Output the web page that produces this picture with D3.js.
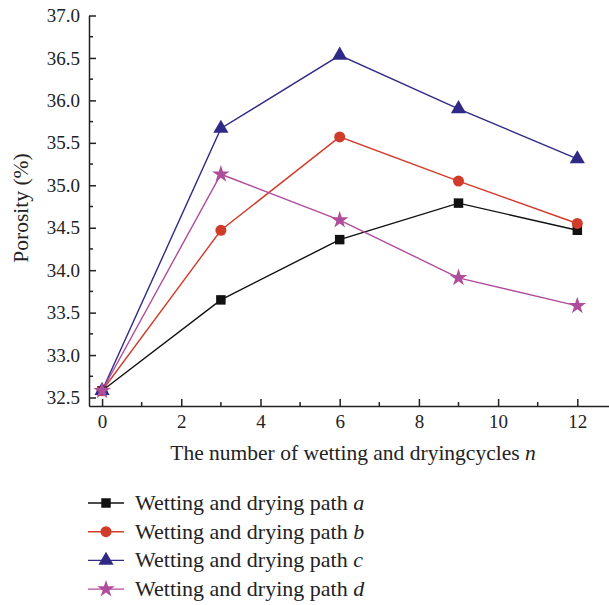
<!DOCTYPE html>
<html>
<head>
<meta charset="utf-8">
<script src="https://cdn.jsdelivr.net/npm/d3@7"></script>
<style>
  body { margin: 0; background: #fff; }
  text { font-family: "Liberation Serif", "DejaVu Serif", serif; fill: #222; }
</style>
</head>
<body>
<div id="app"></div>
<script>
const cycles = [0, 3, 6, 9, 12];
const pathA = [32.58, 33.65, 34.36, 34.79, 34.47];
const pathB = [32.58, 34.47, 35.57, 35.05, 34.55];
const pathC = [32.58, 35.67, 36.53, 35.90, 35.31];
const pathD = [32.58, 35.13, 34.59, 33.91, 33.58];
const seriesNames = ["a", "b", "c", "d"];
const xTicks = [0, 2, 4, 6, 8, 10, 12];
const yTicks = [32.5, 33.0, 33.5, 34.0, 34.5, 35.0, 35.5, 36.0, 36.5, 37.0];

const width = 609, height = 605;
const svg = d3.select("#app").append("svg")
  .attr("width", width).attr("height", height);

const x = d3.scaleLinear().domain([-0.33, 12.8]).range([89, 609]);
const y = d3.scaleLinear().domain([32.4, 37.0]).range([406, 15.5]);

const series = [
  { name: seriesNames[0], values: pathA, color: "#111111", symbol: d3.symbolSquare, size: 90 },
  { name: seriesNames[1], values: pathB, color: "#d13b2a", symbol: d3.symbolCircle, size: 95 },
  { name: seriesNames[2], values: pathC, color: "#2f2a86", symbol: d3.symbolTriangle, size: 100 },
  { name: seriesNames[3], values: pathD, color: "#b04c9c", symbol: d3.symbolStar, size: 95 }
];

// axes: ticks point inward
const xAxis = svg.append("g").attr("transform", `translate(0,${y.range()[0]})`)
  .call(d3.axisBottom(x).tickValues(xTicks).tickSizeInner(-7).tickSizeOuter(0).tickPadding(9));
const yAxis = svg.append("g").attr("transform", `translate(${x.range()[0]},0)`)
  .call(d3.axisLeft(y).tickValues(yTicks).tickFormat(d3.format(".1f")).tickSizeInner(-7).tickSizeOuter(0).tickPadding(9));

[xAxis, yAxis].forEach(g => {
  g.select(".domain").attr("stroke", "#222").attr("stroke-width", 1.5);
  g.selectAll(".tick line").attr("stroke", "#222").attr("stroke-width", 1.5);
  g.selectAll("text").style("font-size", "19px").attr("fill", "#222");
});

// minor ticks
const xMinor = d3.range(1, 13, 2);
svg.append("g").selectAll("line").data(xMinor).join("line")
  .attr("x1", d => x(d)).attr("x2", d => x(d))
  .attr("y1", y.range()[0]).attr("y2", y.range()[0] - 4)
  .attr("stroke", "#222").attr("stroke-width", 1.5);
const yMinor = d3.range(32.75, 37, 0.5);
svg.append("g").selectAll("line").data(yMinor).join("line")
  .attr("x1", x.range()[0]).attr("x2", x.range()[0] + 4)
  .attr("y1", d => y(d)).attr("y2", d => y(d))
  .attr("stroke", "#222").attr("stroke-width", 1.5);

// lines and markers
const line = d3.line().x((d, i) => x(cycles[i])).y(d => y(d));
series.forEach(s => {
  svg.append("path").datum(s.values)
    .attr("d", line).attr("fill", "none")
    .attr("stroke", s.color).attr("stroke-width", 1.4);
});
series.forEach(s => {
  svg.append("g").selectAll("path").data(s.values).join("path")
    .attr("transform", (d, i) => `translate(${x(cycles[i])},${y(d)})`)
    .attr("d", d3.symbol().type(s.symbol).size(s.size))
    .attr("fill", s.color);
});

// axis titles
const xt = svg.append("text").attr("x", 353).attr("y", 460)
  .attr("text-anchor", "middle").style("font-size", "21.5px");
xt.append("tspan").text("The number of wetting and dryingcycles ");
xt.append("tspan").attr("font-style", "italic").text("n");

svg.append("text")
  .attr("transform", "translate(28,208) rotate(-90)")
  .attr("text-anchor", "middle").style("font-size", "21.5px")
  .text("Porosity (%)");

// legend
const legend = svg.append("g").selectAll("g").data(series).join("g")
  .attr("transform", (d, i) => `translate(0,${503 + i * 28.7})`);
legend.append("line").attr("x1", 88).attr("x2", 124)
  .attr("stroke", d => d.color).attr("stroke-width", 1.4);
legend.append("path").attr("transform", "translate(106,0)")
  .attr("d", d => d3.symbol().type(d.symbol).size(d.size)())
  .attr("fill", d => d.color);
const lt = legend.append("text").attr("x", 135).attr("y", 7).style("font-size", "22px");
lt.append("tspan").text("Wetting and drying path ");
lt.append("tspan").attr("font-style", "italic").text(d => d.name);
</script>
</body>
</html>
